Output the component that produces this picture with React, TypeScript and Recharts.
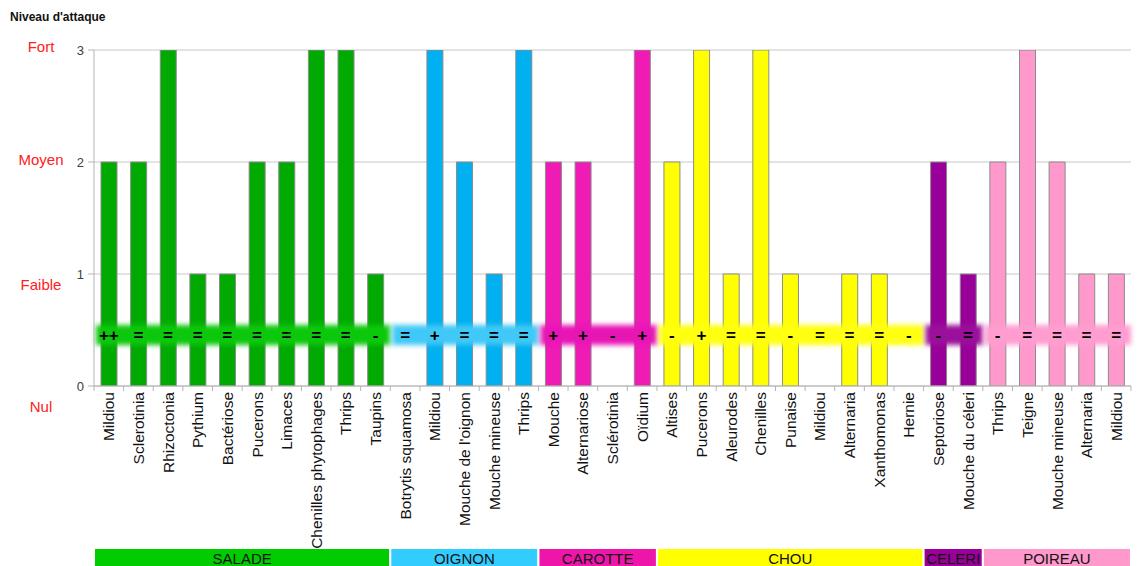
import {
  Bar,
  CartesianGrid,
  Cell,
  ComposedChart,
  LabelList,
  Line,
  ReferenceArea,
  XAxis,
  YAxis,
} from "recharts";

type GroupKey = "SALADE" | "OIGNON" | "CAROTTE" | "CHOU" | "CELERI" | "POIREAU";

const groups: GroupKey[] = ["SALADE", "OIGNON", "CAROTTE", "CHOU", "CELERI", "POIREAU"];

const categories = [
  "Mildiou", "Sclerotinia", "Rhizoctonia", "Pythium", "Bactériose", "Pucerons", "Limaces",
  "Chenilles phytophages", "Thrips", "Taupins",
  "Botrytis squamosa", "Mildiou", "Mouche de l'oignon", "Mouche mineuse", "Thrips",
  "Mouche", "Alternariose", "Sclérotinia", "Oïdium",
  "Altises", "Pucerons", "Aleurodes", "Chenilles", "Punaise", "Mildiou", "Alternaria",
  "Xanthomonas", "Hernie",
  "Septoriose", "Mouche du céleri",
  "Thrips", "Teigne", "Mouche mineuse", "Alternaria", "Mildiou",
];

const categoryGroup: GroupKey[] = [
  ...Array(10).fill("SALADE"),
  ...Array(5).fill("OIGNON"),
  ...Array(4).fill("CAROTTE"),
  ...Array(9).fill("CHOU"),
  ...Array(2).fill("CELERI"),
  ...Array(5).fill("POIREAU"),
];

// attack level 0 = Nul, 1 = Faible, 2 = Moyen, 3 = Fort
const attackLevel = [
  2, 2, 3, 1, 1, 2, 2, 3, 3, 1,
  0, 3, 2, 1, 3,
  2, 2, 0, 3,
  2, 3, 1, 3, 1, 0, 1, 1, 0,
  2, 1,
  2, 3, 2, 1, 1,
];

// trend symbols shown on the coloured band
const trend = [
  "++", "=", "=", "=", "=", "=", "=", "=", "=", "-",
  "=", "+", "=", "=", "=",
  "+", "+", "-", "+",
  "-", "+", "=", "=", "-", "=", "=", "=", "-",
  "-", "=",
  "-", "=", "=", "=", "=",
];

const levelNames = ["Nul", "Faible", "Moyen", "Fort"];
const levelTicks = [0, 1, 2, 3];

const barColors: Record<GroupKey, string> = {
  SALADE: "#00aa00",
  OIGNON: "#00b0f0",
  CAROTTE: "#f01bb5",
  CHOU: "#ffff00",
  CELERI: "#990099",
  POIREAU: "#ff99cc",
};

const bandColors: Record<GroupKey, string> = {
  SALADE: "#0cc80c",
  OIGNON: "#40c8f6",
  CAROTTE: "#e815b5",
  CHOU: "#ffff10",
  CELERI: "#9a109a",
  POIREAU: "#ff9dd0",
};

const stripColors: Record<GroupKey, string> = {
  SALADE: "#00cc00",
  OIGNON: "#33ccff",
  CAROTTE: "#ee15aa",
  CHOU: "#ffff00",
  CELERI: "#990099",
  POIREAU: "#ff99cc",
};

const BAND_MID = 0.455;
const FONT = "'Liberation Sans', Arial, sans-serif";

const data = categories.map((name, i) => ({
  key: `c${i}`,
  name,
  group: categoryGroup[i],
  value: attackLevel[i],
  sym: trend[i],
  mid: BAND_MID,
}));

const groupRange = groups.map((g) => {
  const idx = data.filter((d) => d.group === g);
  return { group: g, first: idx[0].key, last: idx[idx.length - 1].key };
});

// vertical offsets of the red level names relative to their tick
const levelNameShift = [21, 11, -2, -3];

function YTick(props: any) {
  const { x, y, payload } = props;
  const v = payload.value as number;
  return (
    <g>
      <text x={x} y={y} dy="0.35em" textAnchor="end" fontSize={13} fill="#404040" fontFamily={FONT}>
        {v}
      </text>
      <text
        x={41}
        y={y + levelNameShift[v]}
        dy="0.35em"
        textAnchor="middle"
        fontSize={15}
        fill="#ff2020"
        fontFamily={FONT}
      >
        {levelNames[v]}
      </text>
    </g>
  );
}

function XTick(props: any) {
  const { x, y, payload, index } = props;
  const half = payload.offset ?? 14.8;
  const label = data[index]?.name ?? "";
  return (
    <g>
      <line x1={x - half} x2={x - half} y1={y - 6} y2={y - 1} stroke="#b4b4b4" />
      {index === data.length - 1 && (
        <line x1={x + half} x2={x + half} y1={y - 6} y2={y - 1} stroke="#b4b4b4" />
      )}
      <text
        x={x}
        y={y}
        dy="0.36em"
        transform={`rotate(-90, ${x}, ${y})`}
        textAnchor="end"
        fontSize={15.5}
        fill="#111"
        fontFamily={FONT}
      >
        {label}
      </text>
    </g>
  );
}

export default function App() {
  return (
    <div style={{ position: "absolute", left: 0, top: 0, width: 1139, height: 566, background: "#fff" }}>
      <div
        style={{
          position: "absolute",
          left: 10,
          top: 10,
          fontFamily: FONT,
          fontWeight: "bold",
          fontSize: 12,
          lineHeight: "14px",
          color: "#111",
        }}
      >
        Niveau d'attaque
      </div>
      <ComposedChart
        width={1139}
        height={566}
        data={data}
        margin={{ top: 50, right: 8, left: 0, bottom: 0 }}
        barCategoryGap={0}
      >
        <CartesianGrid vertical={false} stroke="#c8c8c8" />
        <XAxis
          dataKey="key"
          interval={0}
          tickLine={false}
          tickSize={6}
          tickMargin={0}
          axisLine={{ stroke: "#b4b4b4" }}
          tick={<XTick />}
          height={180}
        />
        <YAxis
          domain={[0, 3]}
          ticks={levelTicks}
          width={94}
          tickSize={6}
          tickMargin={4}
          axisLine={{ stroke: "#b4b4b4" }}
          tickLine={{ stroke: "#b4b4b4" }}
          tick={<YTick />}
          allowDataOverflow
        />
        <YAxis
          yAxisId="border"
          orientation="right"
          width={0}
          tick={false}
          tickLine={false}
          axisLine={{ stroke: "#c8c8c8", strokeWidth: 1.5 }}
        />
        <Bar dataKey="value" barSize={16} stroke="#8c8c8c" strokeWidth={1} isAnimationActive={false}>
          {data.map((d) => (
            <Cell key={d.key} fill={barColors[d.group]} />
          ))}
        </Bar>
        {groupRange.map((g) => (
          <ReferenceArea
            key={`band-${g.group}`}
            x1={g.first}
            x2={g.last}
            y1={0.366}
            y2={0.545}
            zIndex={350}
            ifOverflow="visible"
            shape={(p: any) => (
              <rect
                x={p.x + 2}
                y={p.y}
                width={Math.max(0, p.width - 2)}
                height={p.height}
                fill={bandColors[g.group]}
                style={{ filter: "blur(2.5px)" }}
              />
            )}
          />
        ))}
        {groupRange.map((g) => (
          <ReferenceArea
            key={`strip-${g.group}`}
            x1={g.first}
            x2={g.last}
            y1={-1.446}
            y2={-1.75}
            ifOverflow="visible"
            fill={stripColors[g.group]}
            fillOpacity={1}
            stroke="#ffffff"
            strokeWidth={2}
            label={{
              value: g.group,
              position: "insideTop",
              offset: 5,
              fill: "#111",
              fontSize: 15,
              fontFamily: FONT,
            }}
          />
        ))}
        <Line
          dataKey="mid"
          stroke="none"
          dot={false}
          activeDot={false}
          isAnimationActive={false}
        >
          <LabelList
            dataKey="sym"
            position="center"
            fill="#000"
            fontSize={17}
            fontWeight="bold"
            fontFamily={FONT}
          />
        </Line>
      </ComposedChart>
    </div>
  );
}
